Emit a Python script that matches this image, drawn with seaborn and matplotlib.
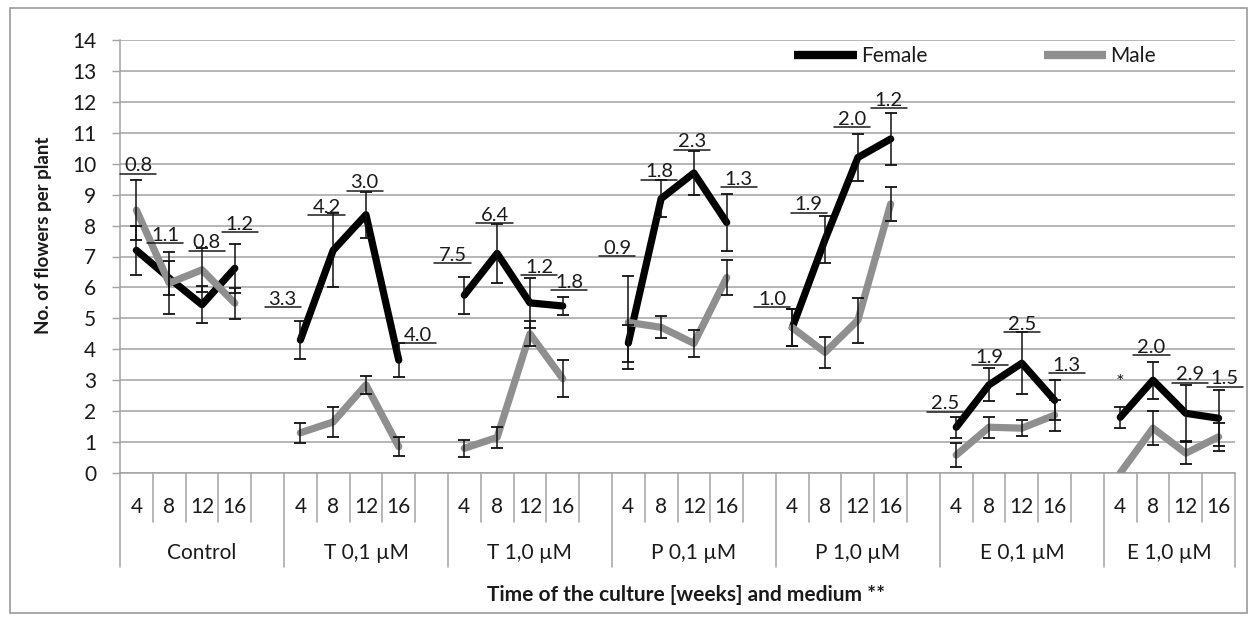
import numpy as np
import pandas as pd
import matplotlib
matplotlib.use("Agg")
import matplotlib.pyplot as plt
import seaborn as sns
from matplotlib.lines import Line2D
from matplotlib.patches import Rectangle

# ---------------- data ----------------
media = ["Control", "T 0,1 µM", "T 1,0 µM", "P 0,1 µM", "P 1,0 µM", "E 0,1 µM", "E 1,0 µM"]
weeks = ["4", "8", "12", "16"]

female = [7.2, 6.3, 5.44, 6.62,
          4.3, 7.2, 8.35, 3.65,
          5.75, 7.1, 5.5, 5.4,
          4.2, 8.87, 9.7, 8.1,
          4.7, 7.55, 10.2, 10.8,
          1.48, 2.85, 3.55, 2.35,
          1.8, 3.0, 1.93, 1.77]
female_err = [0.8, 0.54, 0.6, 0.8,
              0.6, 1.2, 0.75, 0.55,
              0.6, 0.95, 0.8, 0.3,
              0.6, 0.6, 0.72, 0.92,
              0.6, 0.75, 0.76, 0.85,
              0.34, 0.53, 1.0, 0.65,
              0.34, 0.6, 0.9, 0.9]
male = [8.5, 6.14, 6.57, 5.49,
        1.3, 1.65, 2.85, 0.85,
        0.8, 1.15, 4.5, 3.05,
        4.87, 4.71, 4.19, 6.32,
        4.7, 3.9, 4.94, 8.7,
        0.58, 1.48, 1.45, 1.87,
        0.0, 1.45, 0.64, 1.17]
male_err = [0.97, 1.0, 0.72, 0.5,
            0.33, 0.5, 0.3, 0.3,
            0.27, 0.35, 0.4, 0.6,
            1.5, 0.36, 0.43, 0.56,
            0.6, 0.5, 0.73, 0.56,
            0.4, 0.34, 0.26, 0.5,
            0.0, 0.55, 0.35, 0.45]

ann_text = ["0.8", "1.1", "0.8", "1.2",
            "3.3", "4.2", "3.0", "4.0",
            "7.5", "6.4", "1.2", "1.8",
            "0.9", "1.8", "2.3", "1.3",
            "1.0", "1.9", "2.0", "1.2",
            "2.5", "1.9", "2.5", "1.3",
            "*", "2.0", "2.9", "1.5"]
# annotation placement (offset in categories, height in axis units)
ann_dx = [0.05, -0.13, 0.15, 0.15,
          -0.54, -0.2, -0.04, 0.57,
          -0.36, -0.08, 0.29, 0.2,
          -0.34, -0.06, -0.06, 0.37,
          -0.62, -0.5, -0.19, -0.06,
          -0.35, 0.02, 0.0, 0.37,
          0.0, -0.05, 0.12, 0.19]
ann_y = [10.0, 7.74, 7.5, 8.1,
         5.68, 8.65, 9.45, 4.52,
         7.1, 8.39, 6.71, 6.23,
         7.32, 9.8, 10.77, 9.55,
         5.68, 8.74, 11.5, 12.12,
         2.3, 3.8, 4.87, 3.55,
         3.0, 4.13, 3.23, 3.1]

# ---------------- layout ----------------
sns.set_theme(style="white")
plt.rcParams["font.family"] = ["Lato", "DejaVu Sans"]

n_groups = len(media)
per_group = len(weeks) + 1           # 4 weeks + an empty gap category
n_cat = n_groups * per_group - 1      # last group has no gap
pos = [g * per_group + w for g in range(n_groups) for w in range(len(weeks))]
grp = [media[g] for g in range(n_groups) for w in range(len(weeks))]

df = pd.DataFrame({
    "pos": pos * 2,
    "value": female + male,
    "sex": ["Female"] * len(female) + ["Male"] * len(male),
    "group": grp * 2,
})

fig = plt.figure(figsize=(12.55, 6.21), dpi=100)
ax = fig.add_axes([120 / 1255, 148 / 621, 1115 / 1255, 433 / 621])

grid_col = "#a3a3a3"
text_col = "#1a1a1a"
palette = {"Female": "#000000", "Male": "#8f8f8f"}

sns.lineplot(data=df, x="pos", y="value", hue="sex", units="group",
             estimator=None, sort=False, palette=palette,
             hue_order=["Female", "Male"], linewidth=5.2, legend=False,
             ax=ax, zorder=3)

for vals, errs in ((female, female_err), (male, male_err)):
    p = np.array(pos, float)
    v = np.array(vals, float)
    e = np.array(errs, float)
    m = e > 0
    ax.errorbar(p[m], v[m], yerr=e[m], fmt="none", ecolor="#111111",
                elinewidth=1.1, capsize=4.5, capthick=1.3, zorder=5)

ax.set_xlim(-0.5, n_cat - 0.5)
ax.set_ylim(0, 14)
ax.set_yticks(range(0, 15))
ax.set_yticklabels([str(i) for i in range(0, 15)], fontsize=15, color=text_col)
ax.tick_params(axis="y", length=6, width=1, color=grid_col, direction="out", pad=11, left=True)
ax.set_xticks([])
ax.yaxis.grid(True, color=grid_col, linewidth=1.1)
ax.set_axisbelow(True)
for s in ("top", "right"):
    ax.spines[s].set_visible(False)
for s in ("left", "bottom"):
    ax.spines[s].set_color(grid_col)
    ax.spines[s].set_linewidth(1.1)

# multi-level category axis
xtr = ax.get_xaxis_transform()
group_bounds = [g * per_group - 0.5 for g in range(n_groups)] + [n_cat - 0.5]
for b in np.arange(-0.5, n_cat, 1.0):
    long_line = any(abs(b - gb) < 1e-6 for gb in group_bounds)
    ax.plot([b, b], [0, -0.217 if long_line else -0.113], transform=xtr,
            color=grid_col, lw=1.1, clip_on=False)
for i, p_ in enumerate(pos):
    ax.text(p_, -0.078, weeks[i % len(weeks)], transform=xtr, ha="center",
            va="center", fontsize=15, color=text_col)
for g in range(n_groups):
    lo = g * per_group - 0.5
    hi = min(lo + per_group, n_cat - 0.5)
    ax.text((lo + hi) / 2, -0.185, media[g], transform=xtr, ha="center",
            va="center", fontsize=15, color=text_col)

ax.set_xlabel("Time of the culture [weeks] and medium **", fontsize=15,
              fontweight="bold", color=text_col)
ax.xaxis.set_label_coords(0.508, -0.282)
ax.xaxis.label.set_va("center")
ax.set_ylabel("No. of flowers per plant", fontsize=13.5, fontweight="bold", color=text_col)
ax.yaxis.set_label_coords(-0.069, 0.55)
ax.yaxis.label.set_va("center")

# legend
handles = [Line2D([0], [0], color=palette["Female"], lw=6, solid_capstyle="butt"),
           Line2D([0], [0], color=palette["Male"], lw=6, solid_capstyle="butt")]
ax.legend(handles, ["Female", "Male"], loc="center", bbox_to_anchor=(0.767, 0.963),
          ncol=2, frameon=False, handlelength=3.0, handletextpad=0.2,
          columnspacing=5.6, fontsize=15, labelcolor=text_col)

# underlined annotations
texts = []
for p_, dx, yv, s in zip(pos, ann_dx, ann_y, ann_text):
    t = ax.text(p_ + dx, yv - 0.06, s, ha="center", va="center", fontsize=14.5,
                color=text_col, zorder=6)
    texts.append(t)

fig.canvas.draw()
renderer = fig.canvas.get_renderer()
inv = ax.transData.inverted()
for t, s in zip(texts, ann_text):
    if s == "*":
        continue
    bb = t.get_window_extent(renderer)
    (x0, y0), (x1, _) = inv.transform([[bb.x0 - 4, bb.y0 + 0.5], [bb.x1 + 4, bb.y1]])
    ax.plot([x0, x1], [y0, y0], color=text_col, lw=1.1, clip_on=False, zorder=6)

fig.patches.append(Rectangle((10 / 1255, 8 / 621), 1237 / 1255, 605 / 621,
                             transform=fig.transFigure, fill=False,
                             edgecolor="#9a9a9a", lw=1.2))

fig.savefig("out.png", dpi=100, facecolor="white")
